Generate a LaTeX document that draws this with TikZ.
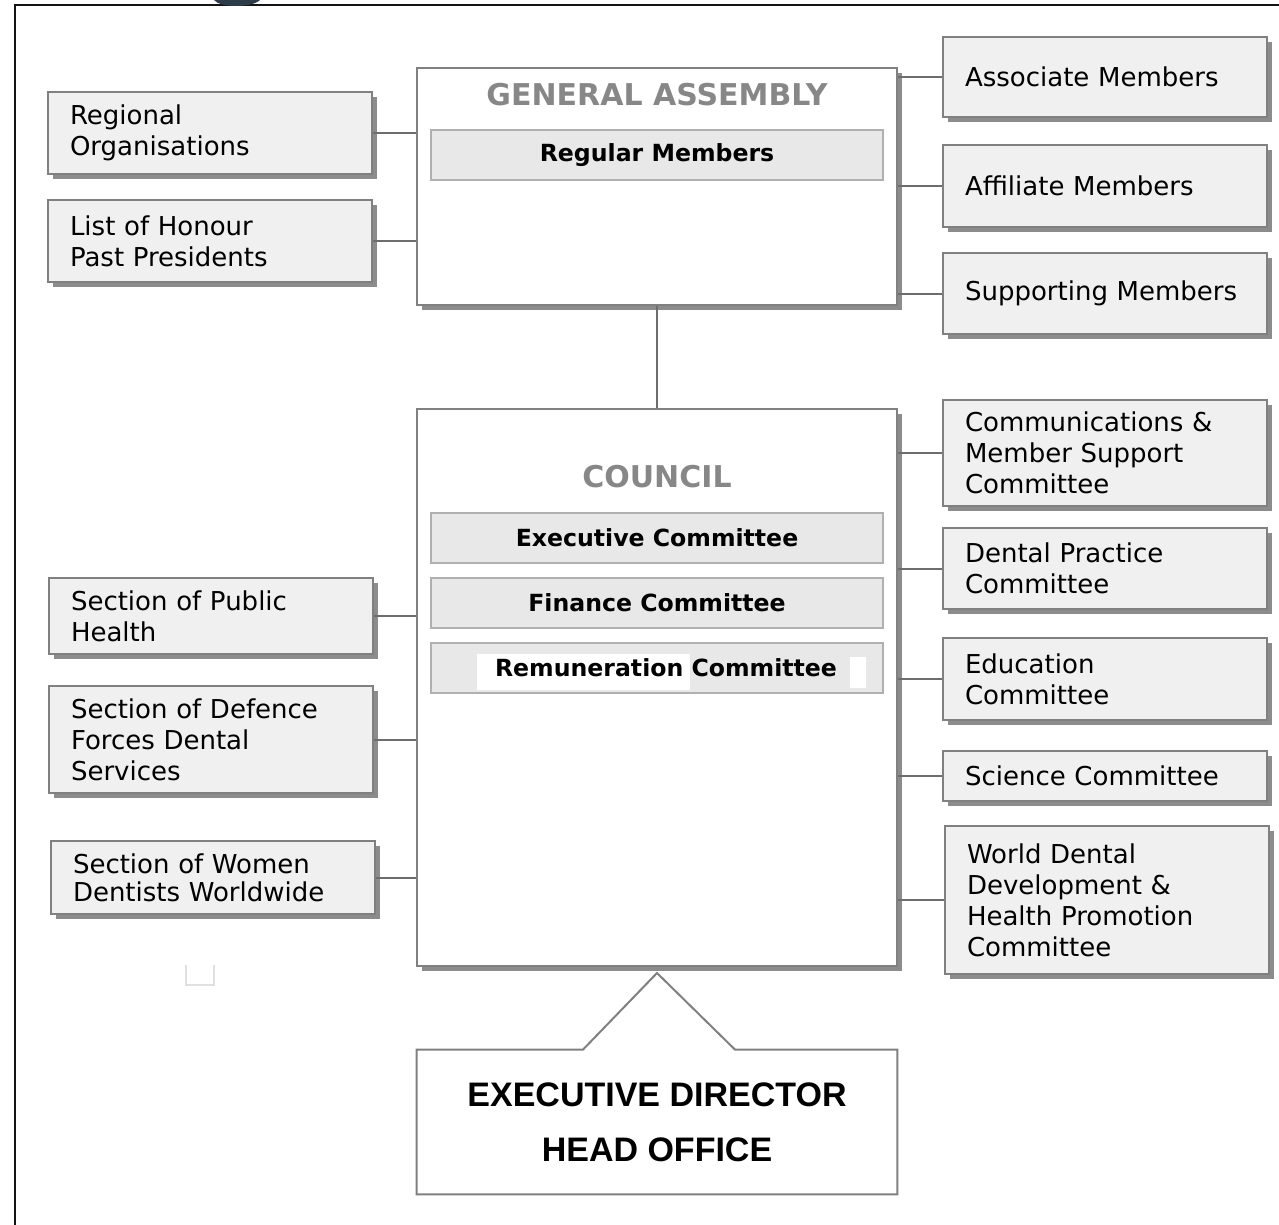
\documentclass[tikz,border=0pt]{standalone}
\usepackage{fontspec}
\setmainfont{DejaVu Sans}
\newfontfamily\edfont{Liberation Sans}
\definecolor{boxline}{RGB}{128,128,128}
\definecolor{boxfill}{RGB}{240,240,240}
\definecolor{innerfill}{RGB}{232,232,232}
\definecolor{innerline}{RGB}{176,176,176}
\definecolor{titlegray}{RGB}{135,135,135}
\definecolor{frameink}{RGB}{20,20,20}
\definecolor{logoink}{RGB}{46,59,72}
\usetikzlibrary{shadows, calc}
\tikzset{
    sidebox/.style={rectangle, draw=boxline, fill=boxfill, line width=1pt, text width=140pt,
                    inner xsep=11pt, align=left, font=\fontsize{13}{15.5}\selectfont,
                    drop shadow={shadow xshift=2.5pt, shadow yshift=-2.5pt, fill=black!45, opacity=1}},
    mainbox/.style={rectangle, draw=boxline, fill=white, line width=1pt, minimum width=240pt,
                    drop shadow={shadow xshift=2.5pt, shadow yshift=-2.5pt, fill=black!45, opacity=1}},
    innerbox/.style={rectangle, draw=innerline, fill=innerfill, line width=1pt, minimum width=226pt,
                     minimum height=25pt, font=\bfseries\fontsize{11.8}{14}\selectfont},
    titletext/.style={font=\bfseries\fontsize{15}{18}\selectfont, text=titlegray},
    link/.style={draw=boxline!85!black, line width=1pt},
}

\begin{document}
\begin{tikzpicture}[x=0.5pt, y=-0.5pt]
    \useasboundingbox (0,0) rectangle (1279,1225);
    % page frame and cut-off logo
    \draw[frameink, line width=1.2pt] (15,1225) -- (15,5) -- (1279,5);
    \fill[logoink] (214,0) .. controls (220,8) and (252,8) .. (260,0) -- cycle;

    \node[mainbox, minimum height=118.5pt] (ga) at (657,186.5) {};
    \node[titletext] (gatitle) at (657,95) {GENERAL ASSEMBLY};
    \node[innerbox] (regular) at (657,155.5) {Regular Members};

    \node[mainbox, minimum height=278.5pt] (council) at (657,687.5) {};
    \node[titletext] (counciltitle) at (657,477) {COUNCIL};
    \node[innerbox] (exec) at (657,538) {Executive Committee};
    \node[innerbox] (finance) at (657,603) {Finance Committee};
    \node[innerbox] (remun) at (657,668) {};
    \fill[white] (477,654) rectangle (690,690);
    \fill[white] (850,657) rectangle (866,688);
    \node[font=\bfseries\fontsize{11.8}{14}\selectfont] (remuntext) at (666,668) {Remuneration Committee};

    \node[sidebox, minimum height=41pt] (regional) at (210,133) {Regional\\Organisations};
    \node[sidebox, minimum height=41pt] (honour) at (210,241) {List of Honour\\Past Presidents};
    \node[sidebox, minimum height=38pt] (publichealth) at (211,616) {Section of Public\\Health};
    \node[sidebox, minimum height=53.5pt] (defence) at (211,739.5) {Section of Defence\\Forces Dental\\Services};
    \node[sidebox, minimum height=36.5pt, font=\fontsize{13}{14}\selectfont] (women) at (213,877.5) {Section of Women\\Dentists Worldwide};

    \node[sidebox, minimum height=40pt] (associate) at (1105,77) {Associate Members};
    \node[sidebox, minimum height=41pt] (affiliate) at (1105,186) {Affiliate Members};
    \node[sidebox, minimum height=40.5pt] (supporting) at (1105,293.5) {Supporting Members};
    \node[sidebox, minimum height=53pt] (comms) at (1105,453) {Communications \&\\Member Support\\Committee};
    \node[sidebox, minimum height=40.5pt] (practice) at (1105,568.5) {Dental Practice\\Committee};
    \node[sidebox, minimum height=41pt] (education) at (1105,679) {Education\\Committee};
    \node[sidebox, minimum height=25pt] (science) at (1105,776) {Science Committee};
    \node[sidebox, minimum height=74pt] (worlddental) at (1107,900) {World Dental\\Development \&\\Health Promotion\\Committee};

    \draw[link] (regional.east) -- (regional.east -| ga.west);
    \draw[link] (honour.east) -- (honour.east -| ga.west);
    \draw[link] (associate.west) -- (associate.west -| ga.east);
    \draw[link] (affiliate.west) -- (affiliate.west -| ga.east);
    \draw[link] (supporting.west) -- (supporting.west -| ga.east);
    \draw[link] (ga.south) -- (council.north);

    \draw[link] (publichealth.east) -- (publichealth.east -| council.west);
    \draw[link] (defence.east) -- (defence.east -| council.west);
    \draw[link] (women.east) -- (women.east -| council.west);
    \draw[link] (comms.west) -- (comms.west -| council.east);
    \draw[link] (practice.west) -- (practice.west -| council.east);
    \draw[link] (education.west) -- (education.west -| council.east);
    \draw[link] (science.west) -- (science.west -| council.east);
    \draw[link] (worlddental.west) -- (worlddental.west -| council.east);

    % head office with its pointer up to the council
    \node[rectangle, minimum width=240pt, minimum height=72pt, align=center,
          font=\edfont\bfseries\fontsize{17}{27.5}\selectfont] (head) at (657,1122) {EXECUTIVE DIRECTOR\\HEAD OFFICE};
    \coordinate (apex) at ($(council.south)+(0,6)$);
    \draw[boxline, line width=1pt] (head.north west) -- ($(head.north)+(-74,0)$) -- (apex)
        -- ($(head.north)+(78,0)$) -- (head.north east) -- (head.south east) -- (head.south west) -- cycle;

    \draw[black!12, line width=1pt] (186,965) -- (186,985) -- (214,985) -- (214,965);
\end{tikzpicture}
\end{document}
